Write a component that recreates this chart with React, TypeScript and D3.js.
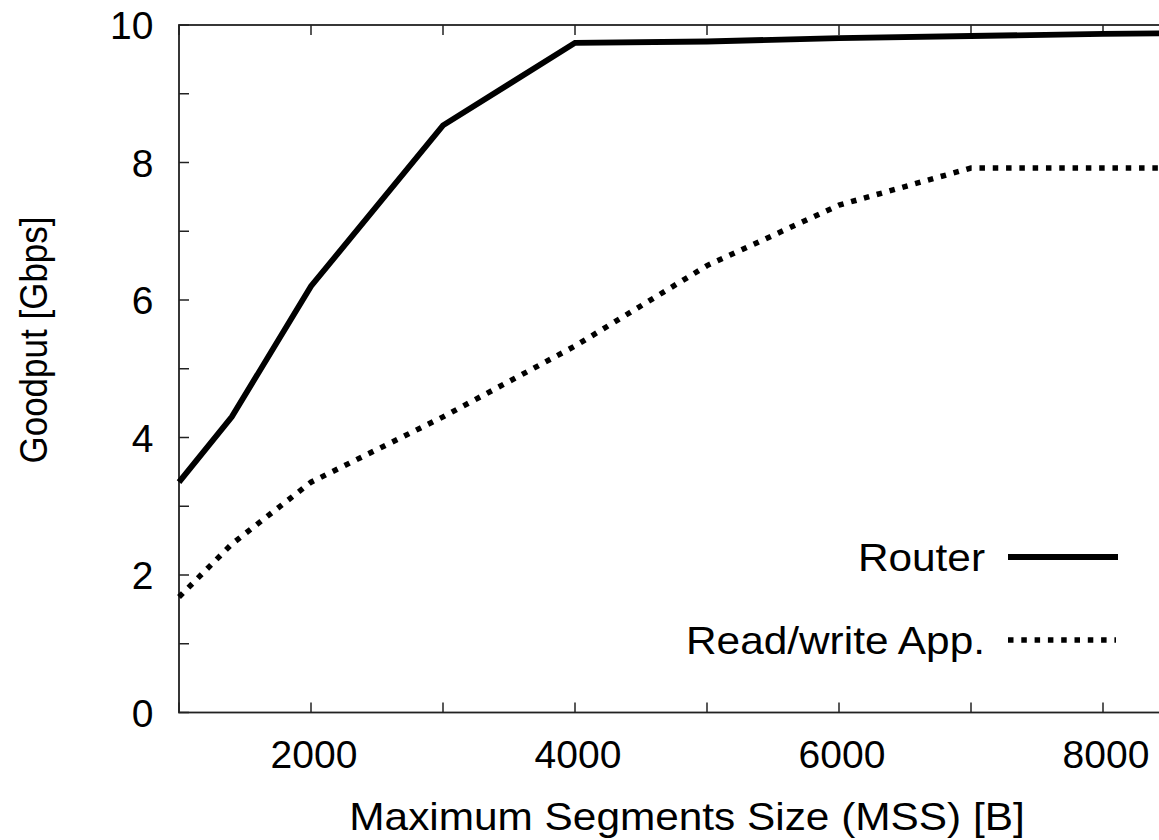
import React from 'react';
import * as d3 from 'd3';

// MSS values (bytes) and measured goodput (Gbps)
const mss = [1000, 1400, 2000, 3000, 4000, 5000, 6000, 7000, 8000, 8500];
const routerGoodput = [3.35, 4.3, 6.2, 8.54, 9.74, 9.76, 9.81, 9.84, 9.87, 9.88];
const appGoodput = [1.68, 2.45, 3.35, 4.3, 5.33, 6.5, 7.38, 7.92, 7.92, 7.92];

const seriesNames = ['Router', 'Read/write App.'];
const xTickLabels = [2000, 4000, 6000, 8000];
const yTickLabels = [0, 2, 4, 6, 8, 10];

const W = 1159;
const H = 840;
const margin = { left: 179, top: 25, right: 1169, bottom: 712.5 };
const FONT = '"Liberation Sans", Arial, Helvetica, sans-serif';
const TICK_FS = 39;
const TEXT_FS = 38.5;
const TEXT_STRETCH_X = 1.1;

const App: React.FC = () => {
  const x = d3.scaleLinear().domain([1000, 8500]).range([margin.left, margin.right]);
  const y = d3.scaleLinear().domain([0, 10]).range([margin.bottom, margin.top]);

  const line = d3
    .line<number>()
    .x((_, i) => x(mss[i]))
    .y(d => y(d));

  const xMinor = d3.range(1000, 8501, 1000);
  const yMinor = d3.range(0, 11, 1);
  const tickLen = 10;
  const axisColor = '#222';
  const dash = '5.5 7.8';

  const textAt = (tx: number, ty: number) =>
    `translate(${tx},${ty}) scale(${TEXT_STRETCH_X},1)`;

  return (
    <svg
      width={W}
      height={H}
      style={{ position: 'absolute', left: 0, top: 0, background: '#fff' }}
      fontFamily={FONT}
    >
      {/* frame */}
      <rect
        x={margin.left}
        y={margin.top}
        width={margin.right - margin.left}
        height={margin.bottom - margin.top}
        fill="none"
        stroke={axisColor}
        strokeWidth={1.8}
      />

      {/* ticks, inward on all sides */}
      <g stroke={axisColor} strokeWidth={1.5}>
        {xMinor.map(v => (
          <g key={'xt' + v}>
            <line x1={x(v)} x2={x(v)} y1={margin.bottom} y2={margin.bottom - tickLen} />
            <line x1={x(v)} x2={x(v)} y1={margin.top} y2={margin.top + tickLen} />
          </g>
        ))}
        {yMinor.map(v => (
          <g key={'yt' + v}>
            <line x1={margin.left} x2={margin.left + tickLen} y1={y(v)} y2={y(v)} />
            <line x1={margin.right} x2={margin.right - tickLen} y1={y(v)} y2={y(v)} />
          </g>
        ))}
      </g>

      {/* tick labels */}
      <g fontSize={TICK_FS} fill="#000">
        {xTickLabels.map(v => (
          <text key={'xl' + v} x={x(v) + 3} y={768} textAnchor="middle">
            {v}
          </text>
        ))}
        {yTickLabels.map(v => (
          <text key={'yl' + v} x={153.5} y={y(v) + 14} textAnchor="end">
            {v}
          </text>
        ))}
      </g>

      {/* axis titles */}
      <text transform={textAt(687, 830)} textAnchor="middle" fontSize={TEXT_FS}>
        Maximum Segments Size (MSS) [B]
      </text>
      <text
        transform={`translate(47,340) rotate(-90) scale(${1 / TEXT_STRETCH_X},1)`}
        textAnchor="middle"
        fontSize={TEXT_FS}
      >
        Goodput [Gbps]
      </text>

      {/* series */}
      <path d={line(routerGoodput) || ''} fill="none" stroke="#000" strokeWidth={5.8} />
      <path
        d={line(appGoodput) || ''}
        fill="none"
        stroke="#000"
        strokeWidth={5.5}
        strokeDasharray={dash}
      />

      {/* legend */}
      <g fontSize={TEXT_FS}>
        <text transform={textAt(985, 571)} textAnchor="end">{seriesNames[0]}</text>
        <line x1={1008} x2={1118} y1={557} y2={557} stroke="#000" strokeWidth={5.8} />
        <text transform={textAt(985, 654)} textAnchor="end">{seriesNames[1]}</text>
        <line x1={1008} x2={1116} y1={640} y2={640} stroke="#000" strokeWidth={5.5} strokeDasharray={dash} />
      </g>
    </svg>
  );
};

export default App;
